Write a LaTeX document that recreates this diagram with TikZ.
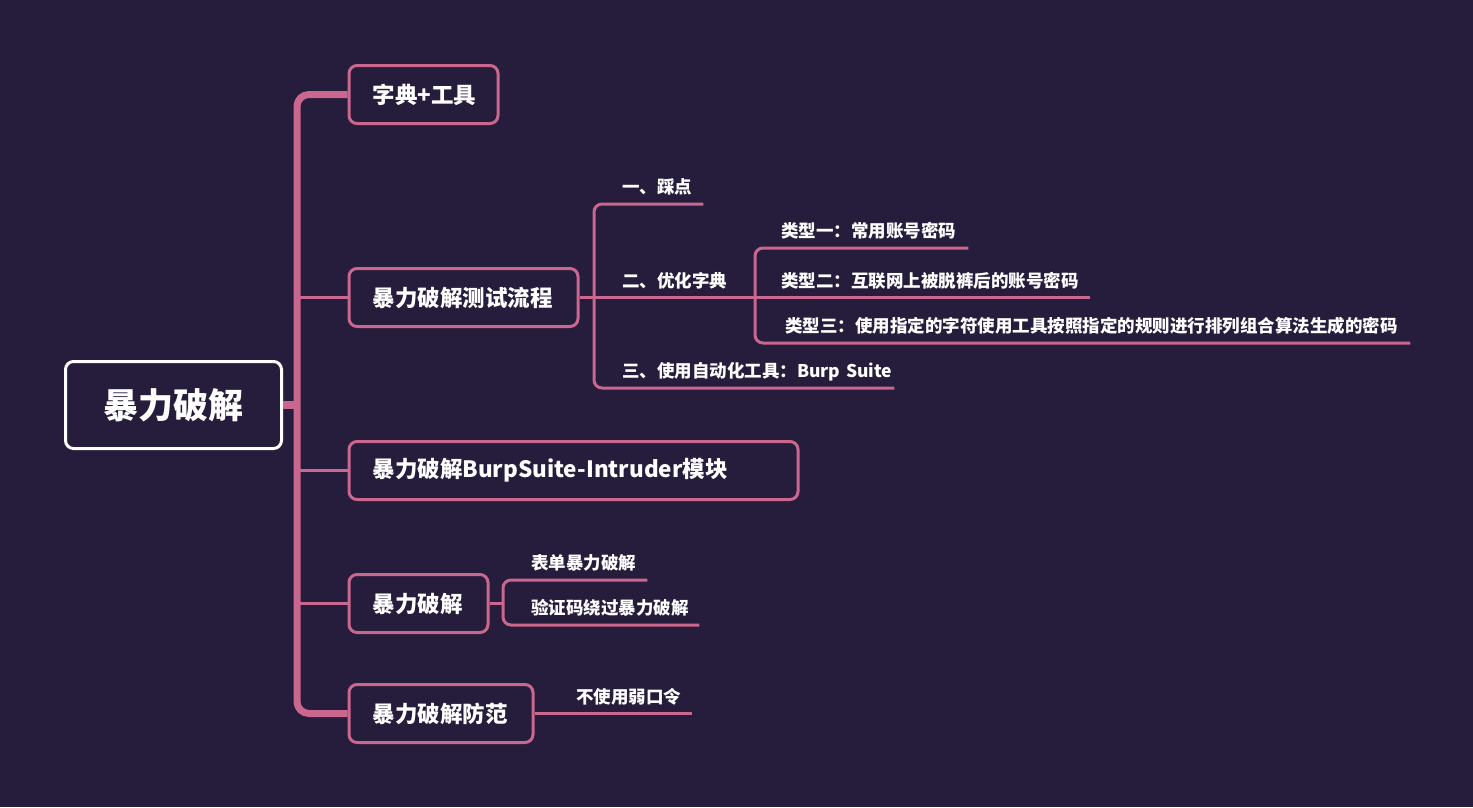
\documentclass[tikz,border=0pt]{standalone}
\usepackage{fontspec}
\setmainfont{Noto Sans CJK SC}
\usetikzlibrary{positioning}
\definecolor{bgcol}{HTML}{261C3B}
\definecolor{pinkline}{HTML}{C9678F}
\begin{document}
\begin{tikzpicture}[x=1pt, y=-1pt, line join=round,
  topic/.style={draw=pinkline, line width=3pt, rounded corners=8pt, anchor=west, minimum height=58pt, inner xsep=23.5pt, align=left, text=white, font=\fontsize{22.5}{26}\selectfont\bfseries},
  leaf/.style={anchor=south west, inner xsep=0pt, inner ysep=10pt, text depth=0pt, align=left, text=white, font=\fontsize{17.5}{20}\selectfont\bfseries},
  branch/.style={draw=pinkline, line width=3pt, rounded corners=8pt},
  trunk/.style={draw=pinkline, line width=7pt, rounded corners=12pt}]
\fill[bgcol] (0,0) rectangle (1473,807);
% root and main topics
\node[draw=white, line width=3pt, rounded corners=8pt, minimum width=216pt, minimum height=87pt, text=white, font=\fontsize{35}{40}\selectfont\bfseries] (root) at (173.5,405) {暴力破解};
\coordinate (trunk) at (297,405);
\node[topic, text width=102pt] (dict) at (347.5,94.5) {字典+工具};
\node[topic, text width=182pt] (flow) at (347.5,297.5) {暴力破解测试流程};
\node[topic, text width=402pt] (intr) at (347.5,470.5) {暴力破解BurpSuite-Intruder模块};
\node[topic, text width=92pt] (crack) at (347.5,603.5) {暴力破解};
\node[topic, text width=137pt] (guard) at (347.5,713.5) {暴力破解防范};
\draw[trunk] (dict.west) -| (trunk) |- (guard.west);
\draw[pinkline, line width=8pt] (root.east) -- (trunk);
\foreach \n in {flow, intr, crack}
  \draw[branch] (\n.west -| trunk) -- (\n.west);
% test flow
\coordinate (b1) at (594,297.5);
\node[leaf, text width=81pt] (s1) at (622,204) {一、踩点};
\node[leaf, text width=133pt] (s2) at (622,297.5) {二、优化字典};
\node[leaf, text width=272pt] (s3) at (622,388) {三、使用自动化工具：Burp Suite};
\draw[branch] (flow.east) -- (b1);
\draw[branch] (s1.south east) -| (b1) |- (s3.south east);
\draw[branch] (b1) -- (s2.south east);
\coordinate (b2) at (755,297.5);
\node[leaf, text width=187pt] (t1) at (781,248) {类型一：常用账号密码};
\node[leaf, text width=309pt] (t2) at (781,297.5) {类型二：互联网上被脱裤后的账号密码};
\node[leaf, text width=625pt] (t3) at (785,343) {类型三：使用指定的字符使用工具按照指定的规则进行排列组合算法生成的密码};
\draw[branch] (t1.south east) -| (b2) |- (t3.south east);
\draw[branch] (b2) -- (t2.south east);
% cracking
\coordinate (b3) at (503,603.5);
\node[leaf, text width=116pt] (u1) at (531,580) {表单暴力破解};
\node[leaf, text width=168pt] (u2) at (531,625) {验证码绕过暴力破解};
\draw[branch] (crack.east) -- (b3);
\draw[branch] (u1.south east) -| (b3) |- (u2.south east);
% defence
\node[leaf, text width=116pt] (v1) at (576,713.5) {不使用弱口令};
\draw[branch] (guard.east) -- (v1.south east);
\end{tikzpicture}
\end{document}
